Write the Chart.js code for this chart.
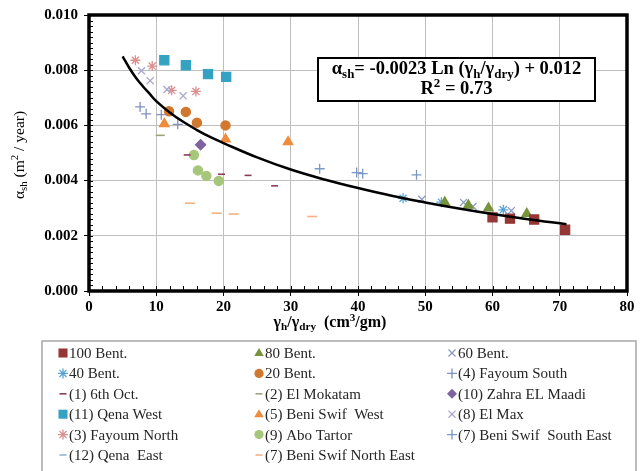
<!DOCTYPE html>
<html>
<head>
<meta charset="utf-8">
<script src="https://cdn.jsdelivr.net/npm/chart.js@4.4.1/dist/chart.umd.min.js"></script>
<style>
  html, body { margin: 0; padding: 0; background: #fff; }
  canvas { display: block; }
</style>
</head>
<body>
<canvas id="chart" width="643" height="471"></canvas>
<script>
// values: [gamma_h/gamma_dry, alpha_sh]
const bent100 = [[60.0, 0.00267], [62.6, 0.00262], [66.2, 0.00259], [70.8, 0.00222]];
const bent80 = [[52.9, 0.00321], [56.4, 0.00310], [59.4, 0.00300], [65.1, 0.00280]];
const bent60 = [[49.5, 0.00332], [55.7, 0.00321], [57.1, 0.00306], [62.8, 0.00291]];
const bent40 = [[46.7, 0.00336], [52.4, 0.00322], [61.6, 0.00294]];
const bent20 = [[11.9, 0.00651], [14.4, 0.00649], [16.05, 0.00610], [20.3, 0.00600]];
const fayoumSouth = [[7.6, 0.00667], [8.5, 0.00642], [10.75, 0.00639], [13.2, 0.00604]];
const oct6 = [[14.6, 0.00493], [19.7, 0.00423], [23.65, 0.00419], [27.6, 0.00381]];
const mokatam = [[10.6, 0.00564]];
const zahra = [[16.6, 0.00530]];
const qenaWest = [[11.2, 0.00836], [14.4, 0.00818], [17.7, 0.00786], [20.4, 0.00776]];
const beniWest = [[11.2, 0.00606], [20.3, 0.00550], [29.6, 0.00540]];
const elMax = [[7.8, 0.00798], [9.1, 0.00762], [11.6, 0.00730], [14.0, 0.00707]];
const fayoumNorth = [[6.9, 0.00836], [9.4, 0.00815], [12.3, 0.00727], [15.9, 0.00723]];
const aboTartor = [[15.6, 0.00493], [16.2, 0.00437], [17.45, 0.00417], [19.3, 0.00399]];
const beniSouthEast = [[34.3, 0.00443], [39.8, 0.00429], [40.7, 0.00425], [48.7, 0.00421]];
const qenaEast = [];
const beniNorthEast = [[15.0, 0.00318], [19.0, 0.00282], [21.5, 0.00279], [33.2, 0.00270]];

// fitted log curve
const fitX = [5, 6, 7, 8, 9, 10, 12, 14, 16, 18, 20, 25, 30, 35, 40, 45, 50, 55, 60, 65, 71];
const fitY = [0.00850, 0.00808, 0.00772, 0.00742, 0.00715, 0.00688, 0.00647, 0.00613, 0.00584, 0.00558, 0.00536, 0.00484, 0.00440, 0.00404, 0.00373, 0.00345, 0.00321, 0.00299, 0.00279, 0.00261, 0.00242];

const xTicks = [0, 10, 20, 30, 40, 50, 60, 70, 80];
const yTicks = [0, 0.002, 0.004, 0.006, 0.008, 0.010];

const SERIF = '"Liberation Serif", "Times New Roman", serif';

// legend order is row by row, three columns
const series = [
    { label: '100 Bent.', data: bent100, style: 'rect', r: 6.4, color: '#953735' },
    { label: '80 Bent.', data: bent80, style: 'triangle', r: 5.5, color: '#77933c' },
    { label: '60 Bent.', data: bent60, style: 'crossRot', r: 5, color: '#8a9cc2' },
    { label: '40 Bent.', data: bent40, style: 'star', r: 5, color: '#5aa5d6' },
    { label: '20 Bent.', data: bent20, style: 'circle', r: 4.6, color: '#d2782e' },
    { label: '(4) Fayoum South', data: fayoumSouth, style: 'cross', r: 5, color: '#8091bd' },
    { label: '(1) 6th Oct.', data: oct6, style: 'line', r: 3.5, color: '#8e3b55' },
    { label: '(2) El Mokatam', data: mokatam, style: 'line', r: 4.5, color: '#9aa37a' },
    { label: '(10) Zahra EL Maadi', data: zahra, style: 'rectRot', r: 5, color: '#7f62a1' },
    { label: '(11) Qena West', data: qenaWest, style: 'rect', r: 6.4, color: '#35a2c2' },
    { label: '(5) Beni Swif  West', data: beniWest, style: 'triangle', r: 5.5, color: '#ef8c3c' },
    { label: '(8) El Max', data: elMax, style: 'crossRot', r: 5, color: '#aaa7cf' },
    { label: '(3) Fayoum North', data: fayoumNorth, style: 'star', r: 5, color: '#db8f8f' },
    { label: '(9) Abo Tartor', data: aboTartor, style: 'circle', r: 4.6, color: '#a6c77a' },
    { label: '(7) Beni Swif  South East', data: beniSouthEast, style: 'cross', r: 5, color: '#7b97c4' },
    { label: '(12) Qena  East', data: qenaEast, style: 'line', r: 3.5, color: '#8fb4d6' },
    { label: '(7) Beni Swif North East', data: beniNorthEast, style: 'line', r: 5, color: '#f4b183' }
];

function font(size, bold) {
    return (bold ? 'bold ' : '') + size + 'px ' + SERIF;
}

// text with subscripts / superscripts, parts = [[text, 'sub'|'sup'|undefined], ...]
function richWidth(ctx, parts, size, bold) {
    let w = 0;
    parts.forEach(p => {
        ctx.font = font(p[1] ? size * 0.7 : size, bold);
        w += ctx.measureText(p[0]).width;
    });
    return w;
}

function drawRich(ctx, parts, cx, cy, size, bold) {
    let x = cx - richWidth(ctx, parts, size, bold) / 2;
    ctx.textBaseline = 'middle';
    ctx.textAlign = 'left';
    parts.forEach(p => {
        let dy = 0;
        if (p[1] === 'sub') dy = size * 0.28;
        if (p[1] === 'sup') dy = -size * 0.32;
        ctx.font = font(p[1] ? size * 0.7 : size, bold);
        ctx.fillText(p[0], x, cy + dy);
        x += ctx.measureText(p[0]).width;
    });
}

function drawMarker(ctx, s, x, y, r) {
    ctx.save();
    ctx.fillStyle = s.color;
    ctx.strokeStyle = s.color;
    ctx.lineWidth = 1.3;
    ctx.beginPath();
    if (s.style === 'rect') {
        const h = r * Math.SQRT1_2;
        ctx.rect(x - h, y - h, 2 * h, 2 * h);
        ctx.fill();
    } else if (s.style === 'rectRot') {
        ctx.moveTo(x, y - r); ctx.lineTo(x + r, y); ctx.lineTo(x, y + r); ctx.lineTo(x - r, y);
        ctx.closePath(); ctx.fill();
    } else if (s.style === 'triangle') {
        ctx.moveTo(x, y - r); ctx.lineTo(x + r * 0.95, y + r * 0.6); ctx.lineTo(x - r * 0.95, y + r * 0.6);
        ctx.closePath(); ctx.fill();
    } else if (s.style === 'circle') {
        ctx.arc(x, y, r, 0, Math.PI * 2); ctx.fill();
    } else if (s.style === 'line') {
        ctx.lineWidth = 1.6;
        ctx.moveTo(x - r, y); ctx.lineTo(x + r, y); ctx.stroke();
    } else {
        const d = r * Math.SQRT1_2;
        if (s.style === 'cross' || s.style === 'star') {
            ctx.moveTo(x - r, y); ctx.lineTo(x + r, y); ctx.moveTo(x, y - r); ctx.lineTo(x, y + r);
        }
        if (s.style === 'crossRot' || s.style === 'star') {
            ctx.moveTo(x - d, y - d); ctx.lineTo(x + d, y + d); ctx.moveTo(x - d, y + d); ctx.lineTo(x + d, y - d);
        }
        ctx.stroke();
    }
    ctx.restore();
}

const extras = {
    id: 'extras',
    afterDraw(chart) {
        const ctx = chart.ctx;
        const a = chart.chartArea;
        const xs = chart.scales.x, ys = chart.scales.y;
        ctx.save();

        // minor ticks pointing inside
        ctx.strokeStyle = '#000';
        ctx.lineWidth = 1;
        ctx.beginPath();
        for (let v = 2; v < 80; v += 2) {
            const px = Math.round(xs.getPixelForValue(v)) + 0.5;
            ctx.moveTo(px, a.bottom); ctx.lineTo(px, a.bottom - 5);
        }
        for (let i = 1; i < 50; i++) {
            const py = Math.round(ys.getPixelForValue(i * 0.0002)) + 0.5;
            ctx.moveTo(a.left, py); ctx.lineTo(a.left + 4, py);
        }
        ctx.stroke();

        // thick frame
        ctx.lineWidth = 3.5;
        ctx.strokeRect(a.left, a.top, a.right - a.left, a.bottom - a.top);

        // equation box
        ctx.fillStyle = '#fff';
        ctx.fillRect(318, 58, 277, 43);
        ctx.lineWidth = 2;
        ctx.strokeRect(318, 58, 277, 43);
        ctx.fillStyle = '#000';
        drawRich(ctx, [['α'], ['sh', 'sub'], ['= -0.0023 Ln ('], ['γ'], ['h', 'sub'], ['/'], ['γ'], ['dry', 'sub'], [') + 0.012']], 456.5, 69.5, 18.5, true);
        drawRich(ctx, [['R'], ['2', 'sup'], [' = 0.73']], 456.5, 89.5, 18.5, true);

        // axis titles
        drawRich(ctx, [['γ'], ['h', 'sub'], ['/'], ['γ'], ['dry', 'sub'], ['  (cm'], ['3', 'sup'], ['/gm)']], 330, 323, 16, true);
        ctx.save();
        ctx.translate(20, 155);
        ctx.rotate(-Math.PI / 2);
        drawRich(ctx, [['α'], ['sh', 'sub'], [' (m'], ['2', 'sup'], [' / year)']], 0, 0, 15.5, false);
        ctx.restore();

        // legend box
        ctx.strokeStyle = '#a6a6a6';
        ctx.lineWidth = 1.5;
        ctx.strokeRect(42, 341, 594, 140);
        const colMarker = [63, 259, 452];
        const rowY = 353, rowStep = 20.4;
        series.forEach((s, i) => {
            const col = i % 3, row = Math.floor(i / 3);
            const y = rowY + row * rowStep;
            const mr = s.style === 'line' ? 3.5 : Math.min(s.r, 5);
            drawMarker(ctx, s, colMarker[col], y, s.style === 'rect' ? 6.4 : mr);
            ctx.fillStyle = '#262626';
            ctx.font = font(15, false);
            ctx.textAlign = 'left';
            ctx.textBaseline = 'middle';
            ctx.fillText(s.label, colMarker[col] + 6, y + 1);
        });
        ctx.restore();
    }
};

const datasets = series.map(s => ({
    label: s.label,
    data: s.data.map(p => ({ x: p[0], y: p[1] })),
    pointStyle: s.style,
    pointRadius: s.r,
    backgroundColor: s.color,
    borderColor: s.color,
    pointBorderWidth: (s.style === 'line') ? 1.6 : 1.3,
    showLine: false,
    order: 1
}));

datasets.push({
    label: 'fit',
    type: 'line',
    data: fitX.map((x, i) => ({ x: x, y: fitY[i] })),
    borderColor: '#000',
    borderWidth: 2.5,
    pointRadius: 0,
    tension: 0.4,
    fill: false,
    order: 0
});

new Chart(document.getElementById('chart'), {
    type: 'scatter',
    data: { datasets: datasets },
    options: {
        responsive: false,
        animation: false,
        layout: { padding: { top: 11, right: 16, left: 0, bottom: 0 } },
        plugins: { legend: { display: false }, tooltip: { enabled: false } },
        scales: {
            x: {
                type: 'linear', min: 0, max: 80,
                afterBuildTicks: s => { s.ticks = xTicks.map(v => ({ value: v })); },
                afterFit: s => { s.height = 180; },
                ticks: { font: { family: SERIF, size: 15, weight: 'bold' }, color: '#000', padding: 2, maxRotation: 0 },
                grid: { color: '#bfbfbf', lineWidth: 1, tickLength: 5, tickColor: '#000' },
                border: { display: false }
            },
            y: {
                type: 'linear', min: 0, max: 0.010,
                afterBuildTicks: s => { s.ticks = yTicks.map(v => ({ value: v })); },
                afterFit: s => { s.width = 89; },
                ticks: { font: { family: SERIF, size: 15, weight: 'bold' }, color: '#000', padding: 6, callback: v => v.toFixed(3) },
                grid: { color: '#bfbfbf', lineWidth: 1, tickLength: 5, tickColor: '#000' },
                border: { display: false }
            }
        }
    },
    plugins: [extras]
});
</script>
</body>
</html>
